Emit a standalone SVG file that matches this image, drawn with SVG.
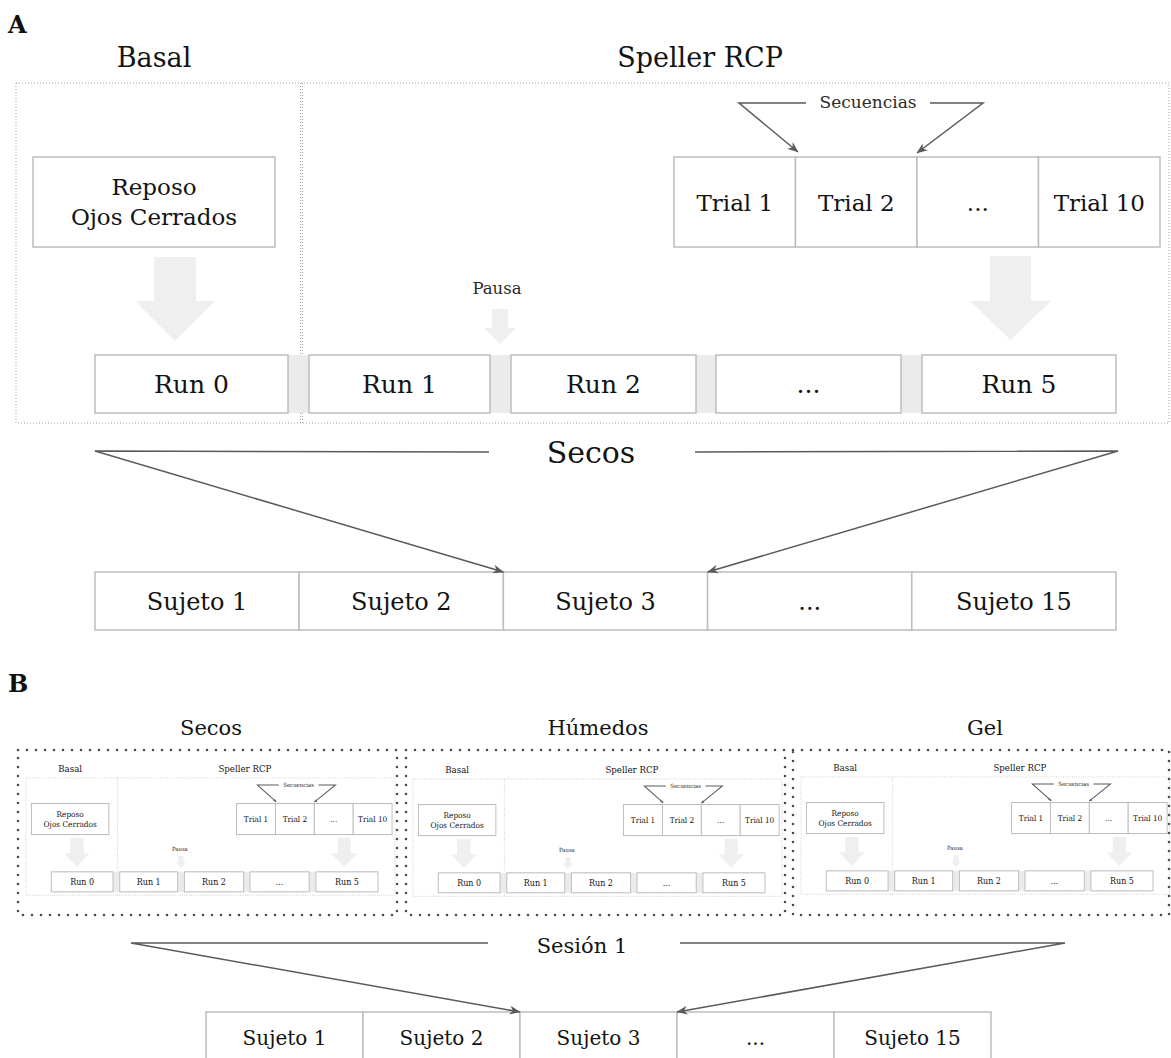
<svg xmlns="http://www.w3.org/2000/svg" width="1171" height="1058" viewBox="0 0 1171 1058">
<style>
text{font-family:"DejaVu Serif","Liberation Serif",serif;fill:#131313;text-anchor:middle}
.big{font-family:"DejaVu Serif","Liberation Serif",serif;font-weight:bold;font-size:24px;text-anchor:start;fill:#111}
.h{font-size:27px}
.t23{font-size:23px}
.tr{font-size:23px}
.run{font-size:25px}
.sec{font-size:17px;fill:#2a2a2a}
.pau{font-size:16.5px;fill:#2a2a2a}
.suj{font-size:24px}
.secos{font-size:30px}
.hb{font-size:21px}
.sujb{font-size:20px}
.box{fill:#fff;stroke:#bdbdbd;stroke-width:1.5}
.gap{fill:#ebebeb;stroke:none}
.dot{fill:none;stroke:#a6a6a6;stroke-width:1;stroke-dasharray:1 2}
.garrow{fill:#efefef;stroke:none}
.conn{fill:none;stroke:#5a5a5a;stroke-width:1.5}
.bold-dot{fill:none;stroke:#4a4a4a;stroke-width:2.6;stroke-dasharray:0 9;stroke-linecap:round}
.mini .box{stroke-width:3}
.mini .dot{stroke-width:2.2;stroke-dasharray:2 5}
.mini .conn{stroke-width:3}
</style>
<defs>
<marker id="ah" viewBox="0 0 10 10" refX="9.5" refY="5" markerWidth="11" markerHeight="11" orient="auto" markerUnits="userSpaceOnUse"><path d="M0,1 L10,5 L0,9 L3,5 z" fill="#5a5a5a"/></marker>
</defs>

<text class="big" x="8" y="33">A</text>

<g id="panel-a">
<g id="a-basal-title"><text class="h" x="154" y="67">Basal</text></g>
<g id="a-speller-title"><text class="h" x="700" y="67">Speller RCP</text></g>
<g id="a-frame" class="dot"><rect x="16" y="83" width="1153" height="340"/><line x1="300.5" y1="83" x2="300.5" y2="423"/><line x1="302.5" y1="83" x2="302.5" y2="423"/></g>
<g id="a-reposo"><rect class="box" x="33" y="157" width="242" height="90"/><text class="t23" x="154" y="195">Reposo</text><text class="t23" x="154" y="225">Ojos Cerrados</text></g>
<g id="a-trial1"><rect class="box" x="674" y="157" width="121.5" height="90"/><text class="tr" x="734.8" y="211">Trial 1</text></g>
<g id="a-trial2"><rect class="box" x="795.5" y="157" width="121.5" height="90"/><text class="tr" x="856.3" y="211">Trial 2</text></g>
<g id="a-trialdots"><rect class="box" x="917" y="157" width="121.5" height="90"/><text class="tr" x="977.8" y="211">...</text></g>
<g id="a-trial10"><rect class="box" x="1038.5" y="157" width="121.5" height="90"/><text class="tr" x="1099.3" y="211">Trial 10</text></g>
<g id="a-secuencias"><text class="sec" x="868" y="108">Secuencias</text></g>
<g id="a-pausa"><text class="pau" x="497" y="294">Pausa</text></g>
<g id="a-blockarrows" class="garrow">
<polygon points="154,257 196,257 196,301 215,301 175,341 135,301 154,301"/>
<polygon points="990,256 1031,256 1031,301 1051,301 1010.5,340 970,301 990,301"/>
<polygon points="492,309 508,309 508,328 516,328 500,344 484,328 492,328"/>
</g>
<g id="a-runs">
<rect class="gap" x="95" y="355" width="1021" height="58"/>
<g id="a-run0"><rect class="box" x="95" y="355" width="193" height="58"/><text class="run" x="191.5" y="393">Run 0</text></g>
<g id="a-run1"><rect class="box" x="309" y="355" width="181" height="58"/><text class="run" x="399.5" y="393">Run 1</text></g>
<g id="a-run2"><rect class="box" x="511" y="355" width="185" height="58"/><text class="run" x="603.5" y="393">Run 2</text></g>
<g id="a-rundots"><rect class="box" x="716" y="355" width="185" height="58"/><text class="run" x="808.5" y="393">...</text></g>
<g id="a-run5"><rect class="box" x="922" y="355" width="194" height="58"/><text class="run" x="1019" y="393">Run 5</text></g>
</g>
<g id="a-connectors" class="conn">
<polyline points="806,103 739,103 798,152" marker-end="url(#ah)"/>
<polyline points="930,103 983,103 917,153" marker-end="url(#ah)"/>
</g>
</g>

<g id="a-secos-label"><text class="secos" x="591" y="463">Secos</text></g>
<g id="a-sujetos">
<g id="a-sujeto1"><rect class="box" x="95" y="572" width="204.2" height="58"/><text class="suj" x="197.1" y="610">Sujeto 1</text></g>
<g id="a-sujeto2"><rect class="box" x="299.2" y="572" width="204.2" height="58"/><text class="suj" x="401.3" y="610">Sujeto 2</text></g>
<g id="a-sujeto3"><rect class="box" x="503.4" y="572" width="204.2" height="58"/><text class="suj" x="605.5" y="610">Sujeto 3</text></g>
<g id="a-sujetodots"><rect class="box" x="707.6" y="572" width="204.2" height="58"/><text class="suj" x="809.7" y="610">...</text></g>
<g id="a-sujeto15"><rect class="box" x="911.8" y="572" width="204.2" height="58"/><text class="suj" x="1013.9" y="610">Sujeto 15</text></g>
</g>
<g id="a-secos-connectors" class="conn">
<polyline points="489,452 95,451 503.4,572" marker-end="url(#ah)"/>
<polyline points="695,452 1118,451 707.6,572" marker-end="url(#ah)"/>
</g>

<text class="big" x="8" y="692">B</text>

<g id="b-titles">
<text class="hb" x="211" y="735">Secos</text>
<text class="hb" x="598" y="735">Húmedos</text>
<text class="hb" x="985" y="735">Gel</text>
</g>
<g id="b-frames" class="bold-dot">
<rect x="18" y="750" width="379" height="165"/>
<rect x="406" y="750" width="379" height="165"/>
<rect x="793" y="750" width="376" height="165"/>
</g>

<g id="b1" class="mini" transform="translate(26,778) scale(0.32,0.345) translate(-16,-83)">
<g id="b1-basal-title"><text class="h" x="154" y="67">Basal</text></g>
<g id="b1-speller-title"><text class="h" x="700" y="67">Speller RCP</text></g>
<g id="b1-frame" class="dot"><rect x="16" y="83" width="1153" height="340"/><line x1="301.5" y1="83" x2="301.5" y2="423"/></g>
<g id="b1-reposo"><rect class="box" x="33" y="157" width="242" height="90"/><text class="t23" x="154" y="195">Reposo</text><text class="t23" x="154" y="225">Ojos Cerrados</text></g>
<g id="b1-trial1"><rect class="box" x="674" y="157" width="121.5" height="90"/><text class="tr" x="734.8" y="211">Trial 1</text></g>
<g id="b1-trial2"><rect class="box" x="795.5" y="157" width="121.5" height="90"/><text class="tr" x="856.3" y="211">Trial 2</text></g>
<g id="b1-trialdots"><rect class="box" x="917" y="157" width="121.5" height="90"/><text class="tr" x="977.8" y="211">...</text></g>
<g id="b1-trial10"><rect class="box" x="1038.5" y="157" width="121.5" height="90"/><text class="tr" x="1099.3" y="211">Trial 10</text></g>
<g id="b1-secuencias"><text class="sec" x="868" y="108">Secuencias</text></g>
<g id="b1-pausa"><text class="pau" x="497" y="294">Pausa</text></g>
<g id="b1-blockarrows" class="garrow">
<polygon points="154,257 196,257 196,301 215,301 175,341 135,301 154,301"/>
<polygon points="990,256 1031,256 1031,301 1051,301 1010.5,340 970,301 990,301"/>
<polygon points="492,309 508,309 508,328 516,328 500,344 484,328 492,328"/>
</g>
<g id="b1-runs">
<rect class="gap" x="95" y="355" width="1021" height="58"/>
<g id="b1-run0"><rect class="box" x="95" y="355" width="193" height="58"/><text class="run" x="191.5" y="393">Run 0</text></g>
<g id="b1-run1"><rect class="box" x="309" y="355" width="181" height="58"/><text class="run" x="399.5" y="393">Run 1</text></g>
<g id="b1-run2"><rect class="box" x="511" y="355" width="185" height="58"/><text class="run" x="603.5" y="393">Run 2</text></g>
<g id="b1-rundots"><rect class="box" x="716" y="355" width="185" height="58"/><text class="run" x="808.5" y="393">...</text></g>
<g id="b1-run5"><rect class="box" x="922" y="355" width="194" height="58"/><text class="run" x="1019" y="393">Run 5</text></g>
</g>
<g id="b1-connectors" class="conn">
<polyline points="806,103 739,103 798,152" marker-end="url(#ah)"/>
<polyline points="930,103 983,103 917,153" marker-end="url(#ah)"/>
</g>
</g>

<g id="b2" class="mini" transform="translate(413,779) scale(0.32,0.345) translate(-16,-83)">
<g id="b2-basal-title"><text class="h" x="154" y="67">Basal</text></g>
<g id="b2-speller-title"><text class="h" x="700" y="67">Speller RCP</text></g>
<g id="b2-frame" class="dot"><rect x="16" y="83" width="1153" height="340"/><line x1="301.5" y1="83" x2="301.5" y2="423"/></g>
<g id="b2-reposo"><rect class="box" x="33" y="157" width="242" height="90"/><text class="t23" x="154" y="195">Reposo</text><text class="t23" x="154" y="225">Ojos Cerrados</text></g>
<g id="b2-trial1"><rect class="box" x="674" y="157" width="121.5" height="90"/><text class="tr" x="734.8" y="211">Trial 1</text></g>
<g id="b2-trial2"><rect class="box" x="795.5" y="157" width="121.5" height="90"/><text class="tr" x="856.3" y="211">Trial 2</text></g>
<g id="b2-trialdots"><rect class="box" x="917" y="157" width="121.5" height="90"/><text class="tr" x="977.8" y="211">...</text></g>
<g id="b2-trial10"><rect class="box" x="1038.5" y="157" width="121.5" height="90"/><text class="tr" x="1099.3" y="211">Trial 10</text></g>
<g id="b2-secuencias"><text class="sec" x="868" y="108">Secuencias</text></g>
<g id="b2-pausa"><text class="pau" x="497" y="294">Pausa</text></g>
<g id="b2-blockarrows" class="garrow">
<polygon points="154,257 196,257 196,301 215,301 175,341 135,301 154,301"/>
<polygon points="990,256 1031,256 1031,301 1051,301 1010.5,340 970,301 990,301"/>
<polygon points="492,309 508,309 508,328 516,328 500,344 484,328 492,328"/>
</g>
<g id="b2-runs">
<rect class="gap" x="95" y="355" width="1021" height="58"/>
<g id="b2-run0"><rect class="box" x="95" y="355" width="193" height="58"/><text class="run" x="191.5" y="393">Run 0</text></g>
<g id="b2-run1"><rect class="box" x="309" y="355" width="181" height="58"/><text class="run" x="399.5" y="393">Run 1</text></g>
<g id="b2-run2"><rect class="box" x="511" y="355" width="185" height="58"/><text class="run" x="603.5" y="393">Run 2</text></g>
<g id="b2-rundots"><rect class="box" x="716" y="355" width="185" height="58"/><text class="run" x="808.5" y="393">...</text></g>
<g id="b2-run5"><rect class="box" x="922" y="355" width="194" height="58"/><text class="run" x="1019" y="393">Run 5</text></g>
</g>
<g id="b2-connectors" class="conn">
<polyline points="806,103 739,103 798,152" marker-end="url(#ah)"/>
<polyline points="930,103 983,103 917,153" marker-end="url(#ah)"/>
</g>
</g>

<g id="b3" class="mini" transform="translate(801,777) scale(0.32,0.345) translate(-16,-83)">
<g id="b3-basal-title"><text class="h" x="154" y="67">Basal</text></g>
<g id="b3-speller-title"><text class="h" x="700" y="67">Speller RCP</text></g>
<g id="b3-frame" class="dot"><rect x="16" y="83" width="1153" height="340"/><line x1="301.5" y1="83" x2="301.5" y2="423"/></g>
<g id="b3-reposo"><rect class="box" x="33" y="157" width="242" height="90"/><text class="t23" x="154" y="195">Reposo</text><text class="t23" x="154" y="225">Ojos Cerrados</text></g>
<g id="b3-trial1"><rect class="box" x="674" y="157" width="121.5" height="90"/><text class="tr" x="734.8" y="211">Trial 1</text></g>
<g id="b3-trial2"><rect class="box" x="795.5" y="157" width="121.5" height="90"/><text class="tr" x="856.3" y="211">Trial 2</text></g>
<g id="b3-trialdots"><rect class="box" x="917" y="157" width="121.5" height="90"/><text class="tr" x="977.8" y="211">...</text></g>
<g id="b3-trial10"><rect class="box" x="1038.5" y="157" width="121.5" height="90"/><text class="tr" x="1099.3" y="211">Trial 10</text></g>
<g id="b3-secuencias"><text class="sec" x="868" y="108">Secuencias</text></g>
<g id="b3-pausa"><text class="pau" x="497" y="294">Pausa</text></g>
<g id="b3-blockarrows" class="garrow">
<polygon points="154,257 196,257 196,301 215,301 175,341 135,301 154,301"/>
<polygon points="990,256 1031,256 1031,301 1051,301 1010.5,340 970,301 990,301"/>
<polygon points="492,309 508,309 508,328 516,328 500,344 484,328 492,328"/>
</g>
<g id="b3-runs">
<rect class="gap" x="95" y="355" width="1021" height="58"/>
<g id="b3-run0"><rect class="box" x="95" y="355" width="193" height="58"/><text class="run" x="191.5" y="393">Run 0</text></g>
<g id="b3-run1"><rect class="box" x="309" y="355" width="181" height="58"/><text class="run" x="399.5" y="393">Run 1</text></g>
<g id="b3-run2"><rect class="box" x="511" y="355" width="185" height="58"/><text class="run" x="603.5" y="393">Run 2</text></g>
<g id="b3-rundots"><rect class="box" x="716" y="355" width="185" height="58"/><text class="run" x="808.5" y="393">...</text></g>
<g id="b3-run5"><rect class="box" x="922" y="355" width="194" height="58"/><text class="run" x="1019" y="393">Run 5</text></g>
</g>
<g id="b3-connectors" class="conn">
<polyline points="806,103 739,103 798,152" marker-end="url(#ah)"/>
<polyline points="930,103 983,103 917,153" marker-end="url(#ah)"/>
</g>
</g>

<g id="b-sesion-label"><text class="hb" x="582" y="953">Sesión 1</text></g>
<g id="b-sujetos">
<g id="b-sujeto1"><rect class="box" x="206" y="1012" width="157" height="60"/><text class="sujb" x="284.5" y="1045">Sujeto 1</text></g>
<g id="b-sujeto2"><rect class="box" x="363" y="1012" width="157" height="60"/><text class="sujb" x="441.5" y="1045">Sujeto 2</text></g>
<g id="b-sujeto3"><rect class="box" x="520" y="1012" width="157" height="60"/><text class="sujb" x="598.5" y="1045">Sujeto 3</text></g>
<g id="b-sujetodots"><rect class="box" x="677" y="1012" width="157" height="60"/><text class="sujb" x="755.5" y="1045">...</text></g>
<g id="b-sujeto15"><rect class="box" x="834" y="1012" width="157" height="60"/><text class="sujb" x="912.5" y="1045">Sujeto 15</text></g>
</g>
<g id="b-connectors" class="conn">
<polyline points="488,943 131,943 520,1012" marker-end="url(#ah)"/>
<polyline points="680,943 1065,943 677,1012" marker-end="url(#ah)"/>
</g>
</svg>
